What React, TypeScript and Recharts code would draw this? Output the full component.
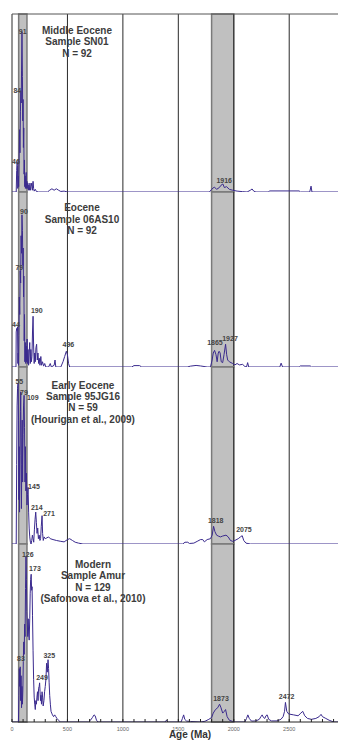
import React from 'react';
import { LineChart, Line, XAxis, YAxis, ReferenceLine, ReferenceArea, ReferenceDot } from 'recharts';

// ---- axis / decoration data ----
const AGE_MAX = 2940;
const MINOR_TICKS = [0, 100, 200, 300, 400, 500, 600, 700, 800, 900, 1000, 1100, 1200, 1300, 1400, 1500, 1600, 1700, 1800, 1900, 2000, 2100, 2200, 2300, 2400, 2500, 2600, 2700, 2800, 2900];
const GRID_AGES = [500, 1000, 1500, 2000, 2500];
const BANDS: [number, number][] = [[60, 135], [1800, 2000]];

// ---- series: [age (Ma), relative probability (0-100 of panel)] ----
const middleEocene: [number, number][] = [
  [0, 0], [38, 0], [42, 12], [46, 17], [49, 15], [52, 2], [56, 9], [60, 3], [64, 18], [68, 35], [72, 22], [76, 45], [80, 57], [83, 50], [86, 68], [90, 90], [94, 65], [97, 40], [100, 52], [103, 25], [106, 36], [109, 10], [112, 18], [115, 3], [118, 9], [121, 2], [124, 8], [128, 11], [131, 2], [135, 6], [139, 2], [143, 5], [147, 1], [152, 4], [157, 1], [162, 5], [167, 1], [172, 3], [178, 5], [184, 1], [190, 6], [195, 2], [200, 0.5], [210, 1.5], [220, 0.3], [240, 0], [320, 0], [340, 1], [360, 1.8], [380, 1], [400, 1.8], [420, 1], [440, 0.3], [470, 0.5], [500, 0],
  [1780, 0], [1800, 1.5], [1825, 2.8], [1845, 1.5], [1870, 2.5], [1885, 3.8], [1902, 4.5], [1915, 2.5], [1935, 3], [1960, 1.5], [1990, 1], [2030, 0.5], [2080, 0.2], [2120, 0], [2150, 1], [2165, 1.7], [2180, 0.5], [2200, 0], [2310, 0], [2325, 0.6], [2590, 0.6], [2600, 0], [2685, 0], [2697, 3.3], [2705, 0], [2940, 0],
];
const eocene: [number, number][] = [
  [0, 0], [36, 0], [38, 20], [42, 22], [46, 21], [50, 23], [53, 2], [56, 8], [59, 1], [62, 18], [66, 40], [70, 30], [74, 55], [78, 48], [82, 75], [86, 65], [90, 87], [94, 78], [98, 58], [101, 68], [104, 40], [107, 52], [110, 15], [113, 30], [116, 3], [120, 14], [124, 2], [128, 12], [132, 3], [136, 16], [140, 2], [145, 10], [150, 1], [155, 8], [160, 14], [165, 2], [170, 10], [175, 3], [180, 6], [185, 20], [190, 29], [195, 12], [200, 2], [205, 8], [210, 3], [216, 11], [222, 13], [228, 4], [234, 8], [240, 2], [246, 5], [252, 1], [260, 6], [266, 1], [275, 3], [285, 0.5], [295, 2], [305, 0], [330, 0], [345, 2], [355, 0], [380, 1], [388, 4], [395, 0], [440, 0], [460, 3], [475, 6], [490, 9], [500, 7], [510, 2], [520, 0],
  [1080, 0], [1100, 0.8], [1150, 0.8], [1170, 0], [1580, 0], [1610, 0.5], [1660, 0.9], [1700, 0.6], [1760, 0], [1790, 0], [1805, 4], [1815, 8], [1827, 9.5], [1840, 7], [1850, 3], [1860, 8], [1868, 9], [1877, 8], [1887, 3], [1900, 2.5], [1912, 7], [1926, 13], [1936, 7], [1945, 4], [1960, 3], [1990, 2], [2010, 1.2], [2030, 2], [2050, 1.2], [2080, 1.5], [2100, 0.3], [2115, 0], [2125, 2.5], [2135, 0], [2415, 0], [2427, 2.2], [2440, 0], [2590, 0], [2600, 0.6], [2690, 0.6], [2700, 0], [2940, 0],
];
const earlyEocene: [number, number][] = [
  [0, 0], [38, 0], [42, 45], [46, 78], [50, 88], [55, 91], [59, 70], [62, 25], [65, 55], [68, 18], [72, 50], [76, 75], [79, 86], [82, 60], [85, 20], [88, 45], [92, 70], [96, 35], [100, 62], [104, 78], [109, 84], [113, 66], [117, 35], [121, 55], [125, 30], [130, 40], [135, 22], [140, 28], [145, 32], [150, 18], [155, 9], [160, 4], [166, 1], [172, 0], [178, 2], [184, 5], [190, 3], [196, 1], [202, 8], [208, 14], [214, 18], [220, 12], [226, 6], [232, 9], [238, 3], [245, 5], [252, 2], [258, 3], [264, 10], [271, 16], [276, 6], [282, 2], [290, 4], [300, 3], [315, 3.5], [330, 4], [345, 3], [370, 2.5], [400, 2], [440, 1.5], [470, 1.2], [500, 2.5], [520, 3], [545, 2], [570, 1], [600, 0.5], [640, 0],
  [1540, 0], [1560, 1], [1585, 1], [1600, 0.3], [1640, 0.5], [1670, 1.5], [1700, 2.5], [1720, 2.5], [1735, 1.2], [1760, 2.5], [1790, 3], [1805, 5], [1818, 10], [1830, 7], [1845, 5], [1860, 4.5], [1880, 4], [1900, 4.5], [1930, 5], [1950, 4], [1970, 2], [1990, 1.5], [2010, 2], [2040, 3], [2060, 4], [2076, 4.7], [2090, 2], [2110, 0.5], [2150, 0], [2940, 0],
];
const modernAmur: [number, number][] = [
  [0, 0], [58, 0], [62, 15], [66, 30], [70, 20], [74, 31], [78, 12], [82, 26], [86, 8], [90, 20], [94, 10], [98, 18], [102, 34], [106, 45], [110, 38], [114, 55], [118, 48], [122, 75], [126, 93], [130, 80], [134, 62], [138, 55], [142, 48], [146, 58], [150, 50], [155, 46], [160, 58], [164, 72], [168, 80], [173, 83], [177, 74], [181, 76], [185, 60], [190, 40], [195, 24], [200, 14], [205, 10], [210, 7], [215, 12], [220, 10], [225, 14], [230, 17], [235, 12], [240, 19], [245, 20], [249, 22], [253, 17], [257, 12], [261, 15], [266, 10], [271, 17], [276, 14], [281, 9], [288, 12], [294, 17], [300, 20], [306, 24], [312, 33], [318, 28], [325, 35], [330, 30], [335, 22], [340, 15], [346, 10], [352, 6], [358, 5], [365, 4], [375, 3], [385, 4], [395, 3], [405, 2], [420, 1], [435, 0],
  [690, 0], [705, 0.8], [725, 2.5], [740, 4], [750, 3.5], [762, 1], [775, 0], [1380, 0], [1392, 1], [1405, 0], [1525, 0], [1537, 2], [1548, 4], [1558, 1.5], [1575, 0.5], [1610, 0.3], [1700, 0], [1740, 0.4], [1775, 1.5], [1800, 2.5], [1815, 5], [1835, 7], [1855, 8], [1872, 10], [1885, 8], [1900, 5], [1915, 6], [1926, 7], [1940, 3], [1960, 1], [1990, 0.3], [2010, 0], [2100, 0], [2115, 2], [2127, 4], [2140, 2], [2160, 0.5], [2200, 0.6], [2230, 1.5], [2245, 3], [2256, 4], [2268, 2.5], [2280, 2], [2290, 3.5], [2301, 4], [2315, 1.5], [2340, 0.6], [2390, 0.6], [2425, 1.5], [2445, 3], [2458, 6], [2466, 11], [2478, 6], [2495, 4.5], [2540, 4], [2580, 3.5], [2605, 5], [2622, 6], [2640, 3.5], [2665, 2], [2700, 1.5], [2740, 2], [2770, 3], [2787, 4.3], [2800, 3], [2830, 2], [2860, 1], [2900, 0], [2940, 0],
];

// ---- peak labels: [text, age, value] ----
const middleEoceneLabels: [string, number, number][] = [["91", 96, 90], ["84", 48, 57], ["46", 36, 17], ["1916", 1914, 6.5]];
const eoceneLabels: [string, number, number][] = [["90", 108, 89], ["79", 66, 57], ["190", 223, 32], ["44", 36, 24.5], ["496", 508, 13], ["1865", 1830, 14], ["1927", 1966, 16]];
const earlyEoceneLabels: [string, number, number][] = [["55", 66, 92], ["79", 108, 85.5], ["109", 187, 83], ["145", 198, 32.5], ["214", 223, 20.5], ["271", 334, 17], ["1818", 1837, 13.2], ["2075", 2092, 8]];
const modernAmurLabels: [string, number, number][] = [["126", 142, 94], ["173", 207, 86], ["83", 81, 35.5], ["325", 336, 37.5], ["249", 271, 25], ["1873", 1885, 13.3], ["2472", 2477, 14.4]];

// ---- titles ----
const middleEoceneTitle = ['Middle Eocene', 'Sample SN01', 'N = 92'];
const eoceneTitle = ['Eocene', 'Sample 06AS10', 'N = 92'];
const earlyEoceneTitle = ['Early Eocene', 'Sample 95JG16', 'N = 59', '(Hourigan et al., 2009)'];
const modernAmurTitle = ['Modern', 'Sample Amur', 'N = 129', '(Safonova et al., 2010)'];

const FONT = '"Liberation Sans", Arial, Helvetica, sans-serif';
const LINE_COLOR = '#3a2a8e';

const toRows = (pairs: [number, number][]) => pairs.map(([age, v]) => ({ age, v }));

function AgeTick(props: any) {
  const { x, y, payload, showLabel } = props;
  return (
    <g>
      <line x1={x} x2={x} y1={y} y2={y - 3} stroke="#222" strokeWidth={1} />
      {showLabel && payload.value % 500 === 0 ? (
        <text x={x} y={y + 8.5} textAnchor="middle" fontSize={5.5} fill="#666" fontFamily={FONT}>
          {payload.value}
        </text>
      ) : null}
    </g>
  );
}

type PanelProps = {
  series: [number, number][];
  labels: [string, number, number][];
  title: string[];
  plotTop: number;
  plotH: number;
  titleCx: number;
  titleTop: number;
  first?: boolean;
  last?: boolean;
};

function Panel({ series, labels, title, plotTop, plotH, titleCx, titleTop, first, last }: PanelProps) {
  const axisH = last ? 16 : 0;
  const h = 2 + plotH + (last ? axisH : 2);
  const rows = toRows(series);
  return (
    <>
      <div style={{ position: 'absolute', left: 0, top: plotTop - 2, width: 338, height: h }}>
        <LineChart width={338} height={h} data={rows} margin={{ top: 2, right: 0, bottom: last ? 0 : 2, left: 12 }}>
          <XAxis
            dataKey="age"
            type="number"
            domain={[0, AGE_MAX]}
            ticks={MINOR_TICKS}
            interval={0}
            height={axisH}
            tickSize={0}
            tickMargin={0}
            tickLine={false}
            axisLine={{ stroke: '#222', strokeWidth: 1 }}
            tick={(p: any) => <AgeTick {...p} showLabel={!!last} />}
            allowDataOverflow
          />
          <YAxis hide domain={[0, 100]} allowDataOverflow />
          {BANDS.map(([a, b], i) => (
            <ReferenceArea key={'b' + i} x1={a} x2={b} fill="#c0c0c0" fillOpacity={1} stroke="#7a7a7a" strokeWidth={1.5} ifOverflow="extendDomain" />
          ))}
          {GRID_AGES.map((g) => (
            <ReferenceLine key={'g' + g} x={g} stroke="#2a2a2a" strokeWidth={1} />
          ))}
          <ReferenceLine x={0} stroke="#2a2a2a" strokeWidth={1} />
          {first ? <ReferenceLine y={100} stroke="#555" strokeWidth={1} /> : null}
          <Line type="linear" dataKey="v" stroke={LINE_COLOR} strokeWidth={1} dot={false} isAnimationActive={false} />
          {labels.map(([t, age, v]) => (
            <ReferenceDot
              key={t + age}
              x={age}
              y={v}
              r={0}
              fill="none"
              stroke="none"
              label={{ value: t, position: 'center', fontSize: 7, fontWeight: 'bold', fill: '#444', fontFamily: FONT }}
            />
          ))}
        </LineChart>
      </div>
      <div
        style={{
          position: 'absolute',
          left: titleCx - 100,
          top: titleTop,
          width: 200,
          textAlign: 'center',
          fontFamily: FONT,
          fontWeight: 'bold',
          fontSize: 10,
          lineHeight: '11.4px',
          color: '#3c3c3c',
          pointerEvents: 'none',
        }}
      >
        {title.map((l) => (
          <div key={l}>{l}</div>
        ))}
      </div>
    </>
  );
}

export default function App() {
  return (
    <div style={{ position: 'absolute', left: 0, top: 0, width: 338, height: 740, overflow: 'hidden', background: '#fff' }}>
      <Panel series={middleEocene} labels={middleEoceneLabels} title={middleEoceneTitle} plotTop={14} plotH={178} titleCx={77} titleTop={25} first />
      <Panel series={eocene} labels={eoceneLabels} title={eoceneTitle} plotTop={192} plotH={175} titleCx={82} titleTop={202.4} />
      <Panel series={earlyEocene} labels={earlyEoceneLabels} title={earlyEoceneTitle} plotTop={367} plotH={177} titleCx={83} titleTop={379.5} />
      <Panel series={modernAmur} labels={modernAmurLabels} title={modernAmurTitle} plotTop={544} plotH={178} titleCx={93} titleTop={559} last />
      <div
        style={{
          position: 'absolute',
          left: 140,
          top: 729.5,
          width: 100,
          textAlign: 'center',
          fontFamily: FONT,
          fontWeight: 'bold',
          fontSize: 10,
          lineHeight: '10px',
          color: '#333',
        }}
      >
        Age (Ma)
      </div>
    </div>
  );
}
